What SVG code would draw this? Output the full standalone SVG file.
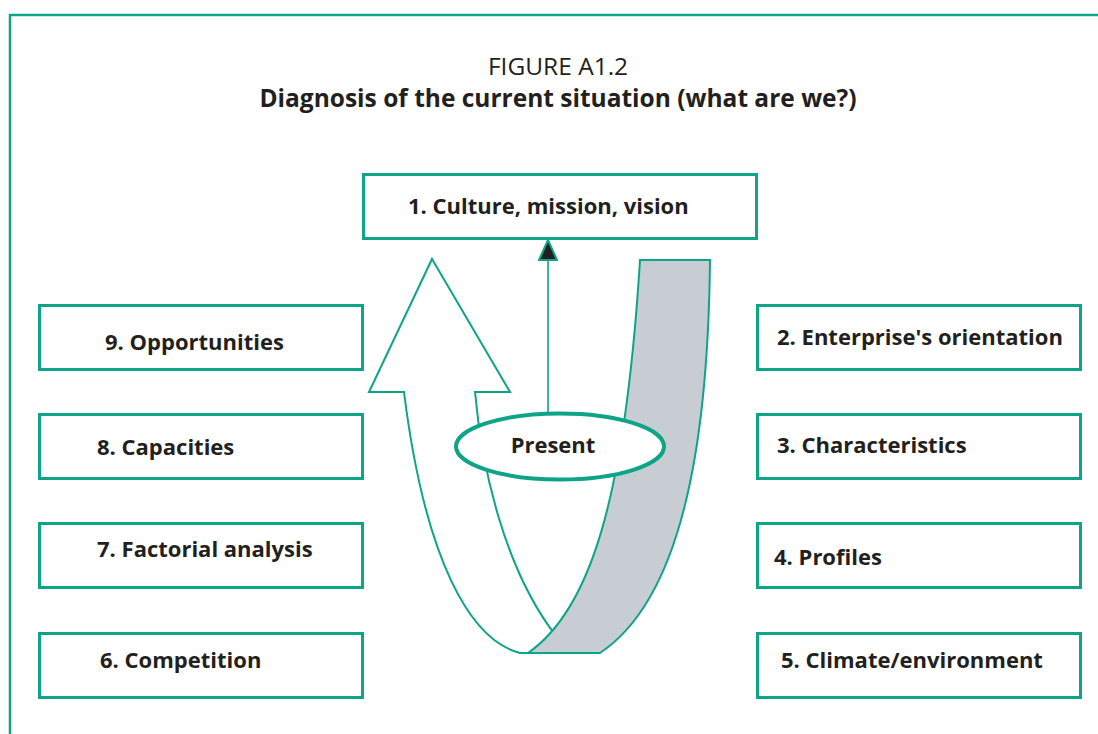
<svg xmlns="http://www.w3.org/2000/svg" width="1098" height="734" viewBox="0 0 1098 734">
  <style>
    .frame { fill: none; stroke: #0ea488; stroke-width: 2.5; }
    .box rect { fill: #ffffff; stroke: #0ea488; stroke-width: 3; }
    .lbl { font-family: "Open Sans", "Noto Sans", "Liberation Sans", sans-serif; font-weight: bold; font-size: 22px; fill: #231f20; }
    .title { font-family: "Open Sans", "Noto Sans", "Liberation Sans", sans-serif; font-size: 24.5px; fill: #231f20; text-anchor: middle; }
    .shape { stroke: #0ea488; stroke-width: 2; stroke-linejoin: miter; }
  </style>
  <defs>
    <marker id="head" markerWidth="24" markerHeight="20" viewBox="0 0 24 20" refX="22" refY="10" orient="auto" markerUnits="userSpaceOnUse">
      <path d="M 2 1 L 22 10 L 2 19 Z" fill="#231f20" stroke="#0ea488" stroke-width="2"/>
    </marker>
  </defs>

  <rect width="1098" height="734" fill="#ffffff"/>
  <path class="frame" d="M 10 740 V 15 H 1100"/>

  <text class="title" x="558" y="75">FIGURE A1.2</text>
  <text class="title" x="558" y="107" font-weight="bold">Diagnosis of the current situation (what are we?)</text>

  <!-- ribbon: white up-arrow in front on the left, grey band behind on the right -->
  <g id="ribbon">
    <path class="shape" fill="#ffffff" d="M 432 259 L 510 392 L 475 392 C 482 470 505 570 556 636 L 530 653 L 520 653 C 470 640 425 560 404 392 L 369 392 Z"/>
    <path class="shape" fill="#c8ccd3" d="M 640 260 L 710 260 C 708 450 680 600 600 653 L 528 653 C 590 610 625 500 640 260 Z"/>
  </g>

  <g id="connectors">
    <line x1="548" y1="413" x2="548" y2="240" stroke="#0ea488" stroke-width="1.6" marker-end="url(#head)"/>
  </g>

  <g id="present">
    <ellipse cx="560" cy="446.5" rx="104" ry="33" fill="#ffffff" stroke="#0ea488" stroke-width="4"/>
    <text class="lbl" x="553" y="453" text-anchor="middle" font-size="26">Present</text>
  </g>

  <g id="n1" class="box">
    <rect x="363.5" y="174.5" width="393" height="64"/>
    <text class="lbl" x="408" y="214">1. Culture, mission, vision</text>
  </g>
  <g id="n2" class="box">
    <rect x="757.5" y="305.5" width="323" height="64"/>
    <text class="lbl" x="777" y="345">2. Enterprise's orientation</text>
  </g>
  <g id="n3" class="box">
    <rect x="757.5" y="414.5" width="323" height="64"/>
    <text class="lbl" x="777" y="453">3. Characteristics</text>
  </g>
  <g id="n4" class="box">
    <rect x="757.5" y="523.5" width="323" height="64"/>
    <text class="lbl" x="774" y="565">4. Profiles</text>
  </g>
  <g id="n5" class="box">
    <rect x="757.5" y="633.5" width="323" height="64"/>
    <text class="lbl" x="781" y="668">5. Climate/environment</text>
  </g>
  <g id="n6" class="box">
    <rect x="39.5" y="633.5" width="323" height="64"/>
    <text class="lbl" x="100" y="668">6. Competition</text>
  </g>
  <g id="n7" class="box">
    <rect x="39.5" y="523.5" width="323" height="64"/>
    <text class="lbl" x="97" y="557">7. Factorial analysis</text>
  </g>
  <g id="n8" class="box">
    <rect x="39.5" y="414.5" width="323" height="64"/>
    <text class="lbl" x="97" y="455">8. Capacities</text>
  </g>
  <g id="n9" class="box">
    <rect x="39.5" y="305.5" width="323" height="64"/>
    <text class="lbl" x="105" y="350">9. Opportunities</text>
  </g>
</svg>
